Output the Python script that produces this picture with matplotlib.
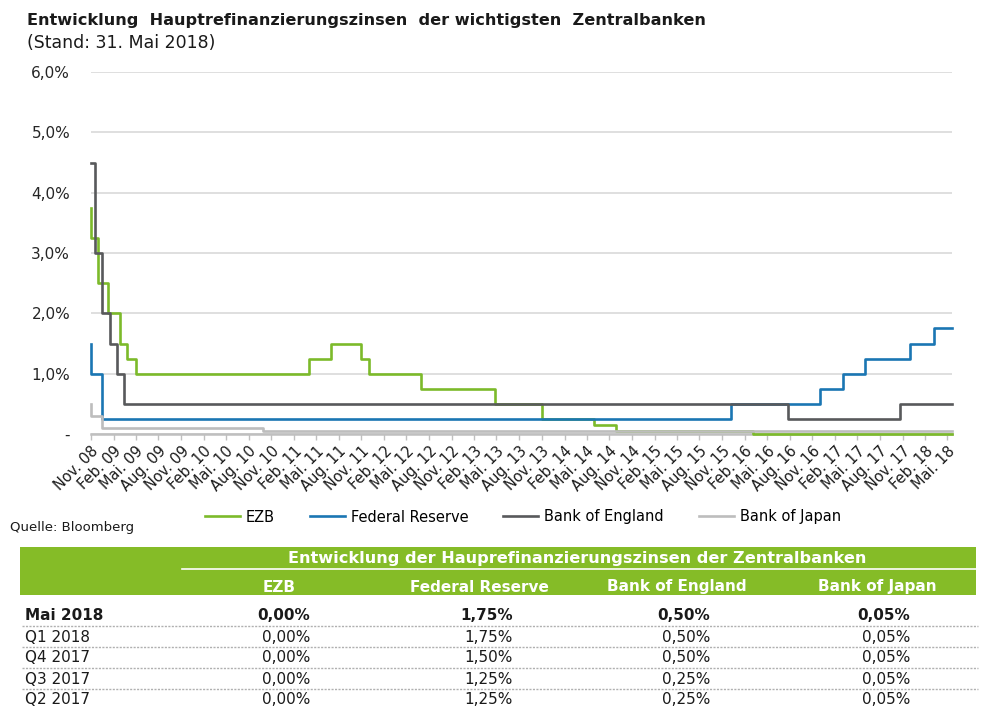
import numpy as np
import pandas as pd
import matplotlib
matplotlib.use("Agg")
import matplotlib.pyplot as plt
from matplotlib.ticker import FuncFormatter
from matplotlib.patches import Rectangle
from matplotlib.lines import Line2D

# --- Daten ---
start = "2008-11-12"
end = "2018-05-31"

ezb_dates = ["2008-11-12", "2008-11-12", "2008-12-10", "2009-01-21", "2009-03-11", "2009-04-08",
             "2009-05-13", "2011-04-13", "2011-07-13", "2011-11-09", "2011-12-14", "2012-07-11",
             "2013-05-08", "2013-11-13", "2014-06-11", "2014-09-10", "2016-03-16"]
ezb_rates = [3.75, 3.25, 2.50, 2.00, 1.50, 1.25, 1.00, 1.25, 1.50, 1.25, 1.00, 0.75,
             0.50, 0.25, 0.15, 0.05, 0.00]

fed_dates = ["2008-11-12", "2008-11-12", "2008-12-25", "2015-12-16", "2016-12-14",
             "2017-03-15", "2017-06-14", "2017-12-13", "2018-03-21"]
fed_rates = [1.50, 1.00, 0.25, 0.50, 0.75, 1.00, 1.25, 1.50, 1.75]

boe_dates = ["2008-11-12", "2008-11-28", "2008-12-25", "2009-01-28", "2009-02-24",
             "2009-03-27", "2016-08-04", "2017-11-02"]
boe_rates = [4.50, 3.00, 2.00, 1.50, 1.00, 0.50, 0.25, 0.50]

boj_dates = ["2008-11-12", "2008-11-12", "2008-12-28", "2010-10-09"]
boj_rates = [0.50, 0.30, 0.10, 0.05]

# Achsenbeschriftung: Quartale Nov. 08 ... Mai. 18
months = ["Nov.", "Feb.", "Mai.", "Aug."]
tick_labels = []
for i in range(39):
    m = months[i % 4]
    y = 8 + (i + 3) // 4
    tick_labels.append(f"{m} {y:02d}")

# Tabelle
tab_title = "Entwicklung der Hauprefinanzierungszinsen der Zentralbanken"
row_labels = ["Mai 2018", "Q1 2018", "Q4 2017", "Q3 2017", "Q2 2017"]
col_headers = ["EZB", "Federal Reserve", "Bank of England", "Bank of Japan"]
tab_ezb = [0.00, 0.00, 0.00, 0.00, 0.00]
tab_fed = [1.75, 1.75, 1.50, 1.25, 1.25]
tab_boe = [0.50, 0.50, 0.50, 0.25, 0.25]
tab_boj = [0.05, 0.05, 0.05, 0.05, 0.05]

# --- Farben ---
c_ezb = "#7cba2a"
c_fed = "#1a76b3"
c_boe = "#58595b"
c_boj = "#bdbdbd"
c_tab = "#85bc27"

W, H = 1000, 723
fig = plt.figure(figsize=(W / 100, H / 100), dpi=100)


def fx(px):
    return px / W


def fy(py):
    return 1 - py / H


ax = fig.add_axes([fx(91), fy(434), fx(952) - fx(91), fy(72) - fy(434)])

t0 = pd.Timestamp(start)
t1 = pd.Timestamp(end)


def step_series(dates, rates):
    # letzter Wert bis zum Stichtag fortschreiben
    d = list(pd.to_datetime(dates)) + [t1]
    r = list(rates) + [rates[-1]]
    return d, r


series = [("EZB", ezb_dates, ezb_rates, c_ezb),
          ("Federal Reserve", fed_dates, fed_rates, c_fed),
          ("Bank of England", boe_dates, boe_rates, c_boe),
          ("Bank of Japan", boj_dates, boj_rates, c_boj)]

handles = []
for name, d, r, c in series:
    xd, yr = step_series(d, r)
    ln, = ax.plot(xd, yr, drawstyle="steps-post", color=c, lw=1.9, clip_on=False, label=name)
    handles.append(ln)

ax.set_xlim(t0, t1)
ax.set_ylim(0, 6)
ax.set_yticks(np.arange(0, 7, 1))
ax.yaxis.set_major_formatter(FuncFormatter(lambda v, p: "-" if v == 0 else f"{v:.1f}%".replace(".", ",")))
ax.tick_params(axis="y", length=0, pad=15, labelsize=11, labelcolor="#262626")
ax.yaxis.grid(True, color="#d9d9d9", lw=1.2)
ax.set_axisbelow(True)

tick_pos = pd.date_range(start, periods=39, freq=pd.DateOffset(months=3))
ax.set_xticks(tick_pos)
ax.set_xticklabels(tick_labels, rotation=45, ha="right", rotation_mode="anchor")
ax.tick_params(axis="x", length=4, width=1, color="#bfbfbf", pad=3, labelsize=10.5, labelcolor="#1a1a1a")

for s in ["top", "right", "left"]:
    ax.spines[s].set_visible(False)
ax.spines["bottom"].set_color("#bfbfbf")
ax.spines["bottom"].set_linewidth(1.8)
ax.spines["bottom"].set_zorder(1)

# Titel
fig.text(fx(27), fy(20), "Entwicklung  Hauptrefinanzierungszinsen  der wichtigsten  Zentralbanken",
         fontsize=11.6, fontweight="bold", color="#1a1a1a", va="center", ha="left")
fig.text(fx(27), fy(43), "(Stand: 31. Mai 2018)", fontsize=12.5, color="#1a1a1a", va="center", ha="left")

# Legende
fig.legend(handles=handles, loc="center", bbox_to_anchor=(fx(523), fy(517)), ncol=4, frameon=False,
           fontsize=10.5, handlelength=2.4, columnspacing=2.4, handletextpad=0.4)
fig.text(fx(10), fy(528), "Quelle: Bloomberg", fontsize=9.5, color="#1a1a1a", va="center", ha="left")

# --- Tabelle ---
fig.patches.append(Rectangle((fx(20), fy(595)), fx(976) - fx(20), fy(547) - fy(595),
                             transform=fig.transFigure, facecolor=c_tab, edgecolor="none"))
fig.text(fx(577), fy(559), tab_title, fontsize=11.6, fontweight="bold", color="white", ha="center", va="center")
fig.lines.append(Line2D([fx(182), fx(976)], [fy(569), fy(569)], transform=fig.transFigure,
                        color="white", lw=1.2))

head_x = [279, 479, 677, 877]
val_x = [310, 513, 710, 910]
for hx, h in zip(head_x, col_headers):
    fig.text(fx(hx), fy(587), h, fontsize=11, fontweight="bold", color="white", ha="center", va="center")

row_y = [616, 637, 658, 679, 700]
cols = [tab_ezb, tab_fed, tab_boe, tab_boj]
for i, (ry, lab) in enumerate(zip(row_y, row_labels)):
    fw = "bold" if i == 0 else "normal"
    fig.text(fx(25), fy(ry), lab, fontsize=11, fontweight=fw, color="#1a1a1a", ha="left", va="center")
    for vx, col in zip(val_x, cols):
        txt = f"{col[i]:.2f}%".replace(".", ",")
        fig.text(fx(vx), fy(ry), txt, fontsize=11, fontweight=fw, color="#1a1a1a", ha="right", va="center")

for sy in [626, 647, 668, 689]:
    fig.lines.append(Line2D([fx(22), fx(978)], [fy(sy), fy(sy)], transform=fig.transFigure,
                            color="#b0b0b0", lw=1.0, ls=(0, (1.5, 1))))

fig.savefig("out.png", dpi=100)
